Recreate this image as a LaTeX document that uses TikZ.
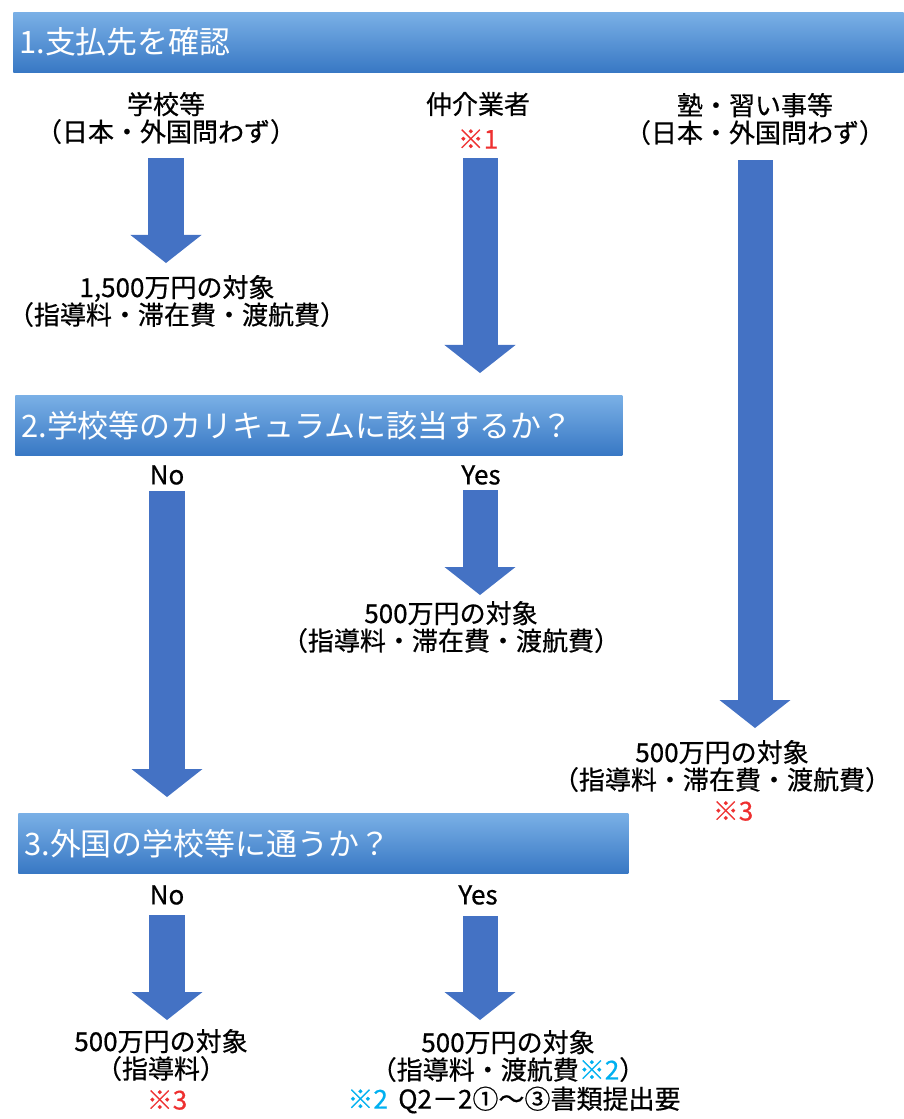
\documentclass[tikz,border=0pt]{standalone}
\usepackage{fontspec}
\setmainfont{Noto Sans CJK JP}
\newfontfamily\lblface{Noto Sans CJK JP}[RawFeature={embolden=0.6}]
\usetikzlibrary{arrows.meta}
\definecolor{arrowblue}{RGB}{68,114,196}
\definecolor{hdrtop}{RGB}{122,176,230}
\definecolor{hdrbot}{RGB}{56,120,196}
\definecolor{notered}{RGB}{238,48,48}
\definecolor{notecyan}{RGB}{0,176,240}
\newcommand{\lblfont}{\lblface\fontsize{18.5pt}{19.5pt}\selectfont}
\newcommand{\hdrfont}{\fontsize{22pt}{25pt}\selectfont}
\tikzset{
  lbl/.style={font=\lblfont, align=center, inner sep=0pt},
  notelbl/.style={lbl, text=notered},
  hdr/.style={top color=hdrtop, bottom color=hdrbot, text=white, font=\hdrfont,
    anchor=north west, align=left, minimum height=1.5cm, inner xsep=0.15cm, inner ysep=0pt},
  bigarrow/.style={draw=arrowblue, line width=0.875cm,
    -{Triangle[length=0.7cm, width=1.775cm, line width=0pt]}}
}
\begin{document}
\begin{tikzpicture}[x=0.025cm, y=-0.025cm]
      \useasboundingbox (0,0) rectangle (903,1119);
      \node[hdr, text width=21.95cm] (h1) at (13,12) {1.支払先を確認};
      \node[hdr, text width=14.875cm] (h2) at (15,395) {2.学校等のカリキュラムに該当するか？};
      \node[hdr, text width=14.95cm] (h3) at (18,813) {3.外国の学校等に通うか？};
      \draw
        (166,118) node[lbl] (school){学校等\\（日本・外国問わず）}
        (478,104) node[lbl] (agent){仲介業者}
        (478,139) node[notelbl] (agentnote){※1}
        (755,119) node[lbl] (juku){塾・習い事等\\（日本・外国問わず）}
        (177,301) node[lbl] (res1){1,500万円の対象\\（指導料・滞在費・渡航費）}
        (167,475) node[lbl] (no2){No}
        (481,475) node[lbl] (yes2){Yes}
        (451,627) node[lbl] (res2){500万円の対象\\（指導料・滞在費・渡航費）}
        (722,766) node[lbl] (res3){500万円の対象\\（指導料・滞在費・渡航費）}
        (733,811) node[notelbl] (res3note){※3}
        (167,895) node[lbl] (no3){No}
        (478,895) node[lbl] (yes3){Yes}
        (161,1055) node[lbl] (res4){500万円の対象\\（指導料）}
        (167,1100) node[notelbl] (res4note){※3}
        (508,1056) node[lbl] (res5){500万円の対象\\（指導料・渡航費\textcolor{notecyan}{※2}）}
        (514,1100) node[lbl] (foot){\textcolor{notecyan}{※2}\hspace{0.4em}Q2－2①～③書類提出要};
      \coordinate (a1s) at (166,158);
      \coordinate (a1e) at (166,263);
      \coordinate (a2s) at (480,158);
      \coordinate (a2e) at (480,373);
      \coordinate (a3s) at (755,160);
      \coordinate (a3e) at (755,728);
      \coordinate (a4s) at (167,491);
      \coordinate (a4e) at (167,797);
      \coordinate (a5s) at (480,490);
      \coordinate (a5e) at (480,595);
      \coordinate (a6s) at (167,915);
      \coordinate (a6e) at (167,1020);
      \coordinate (a7s) at (480,916);
      \coordinate (a7e) at (480,1020);
      \begin{scope}[bigarrow]
        \draw (a1s) to (a1e);
        \draw (a2s) to (a2e);
        \draw (a3s) to (a3e);
        \draw (a4s) to (a4e);
        \draw (a5s) to (a5e);
        \draw (a6s) to (a6e);
        \draw (a7s) to (a7e);
      \end{scope}
    \end{tikzpicture}
\end{document}
